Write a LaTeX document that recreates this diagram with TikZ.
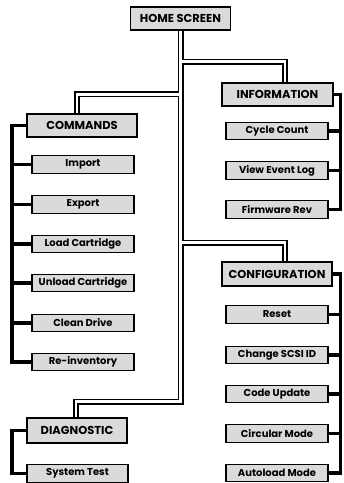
\documentclass[tikz,border=0pt]{standalone}
\usepackage{fontspec}
\setmainfont{Poppins}
\usetikzlibrary{backgrounds}
\definecolor{boxgray}{RGB}{218,218,218}
\tikzset{
  menu/.style={draw, line width=1.3, fill=boxgray, inner sep=0pt,
    font=\bfseries\fontsize{11.5}{12}\selectfont},
  item/.style={draw, line width=1.3, fill=boxgray, inner sep=0pt,
    minimum width=102, minimum height=17.5,
    font=\bfseries\fontsize{10}{11}\selectfont},
  bus/.style={line width=3.5, line join=miter},
}
\begin{document}
\begin{tikzpicture}[x=1pt,y=-1pt]
\useasboundingbox (0,0) rectangle (344,483);
\node[menu,minimum width=100,minimum height=23] (home) at (180.5,18.5) {HOME SCREEN};
\node[menu,minimum width=111,minimum height=23] (info) at (277.5,94.5) {INFORMATION};
\node[menu,minimum width=110,minimum height=23] (cmds) at (82,125.5) {COMMANDS};
\node[menu,minimum width=110,minimum height=24] (config) at (277,274) {CONFIGURATION};
\node[menu,minimum width=100,minimum height=25] (diag) at (77,430.5) {DIAGNOSTIC};
\node[item] (cycle) at (277,131) {Cycle Count};
\node[item] (view) at (277,170.5) {View Event Log};
\node[item] (firm) at (277,209.5) {Firmware Rev};
\node[item] (import) at (83,164.5) {Import};
\node[item] (export) at (83,204.5) {Export};
\node[item] (load) at (83,244) {Load Cartridge};
\node[item] (unload) at (83,283) {Unload Cartridge};
\node[item] (clean) at (83,323) {Clean Drive};
\node[item] (reinv) at (83,362) {Re-inventory};
\node[item] (reset) at (277,314.5) {Reset};
\node[item] (scsi) at (277,355) {Change SCSI ID};
\node[item] (code) at (277,394) {Code Update};
\node[item] (circ) at (277,433.5) {Circular Mode};
\node[item] (auto) at (277,473) {Autoload Mode};
\node[item,minimum width=101] (systest) at (77.5,473.5) {System Test};
\coordinate (lbus) at (12,0);
\coordinate (rbus) at (340.5,0);
\begin{pgfonlayer}{background}
\draw[bus] (cmds.west) -| (lbus |- reinv.west) -- (reinv.west);
\foreach \n in {import,export,load,unload,clean}
  \draw[bus] (\n.west) -- (\n.west -| lbus);
\draw[bus] (info.east) -| (rbus |- firm.east) -- (firm.east);
\foreach \n in {cycle,view}
  \draw[bus] (\n.east) -- (\n.east -| rbus);
\draw[bus] (config.east) -| (rbus |- auto.east) -- (auto.east);
\foreach \n in {reset,scsi,code,circ}
  \draw[bus] (\n.east) -- (\n.east -| rbus);
\draw[bus] (diag.west) -| (lbus |- systest.west) -- (systest.west);
\foreach \w/\c in {6/black,2.8/white} {
  \draw[line width=\w, draw=\c] (home.south) -- ++(0,31) -| ([xshift=7.5]info.north);
  \draw[line width=\w, draw=\c] (home.south) -- ++(0,63.5) -| ([xshift=-5]cmds.north);
  \draw[line width=\w, draw=\c] (home.south) -- ++(0,212) -| ([xshift=8]config.north);
  \draw[line width=\w, draw=\c] (home.south) -- ++(0,371) -| ([xshift=-1]diag.north);
}
\end{pgfonlayer}
\end{tikzpicture}
\end{document}
